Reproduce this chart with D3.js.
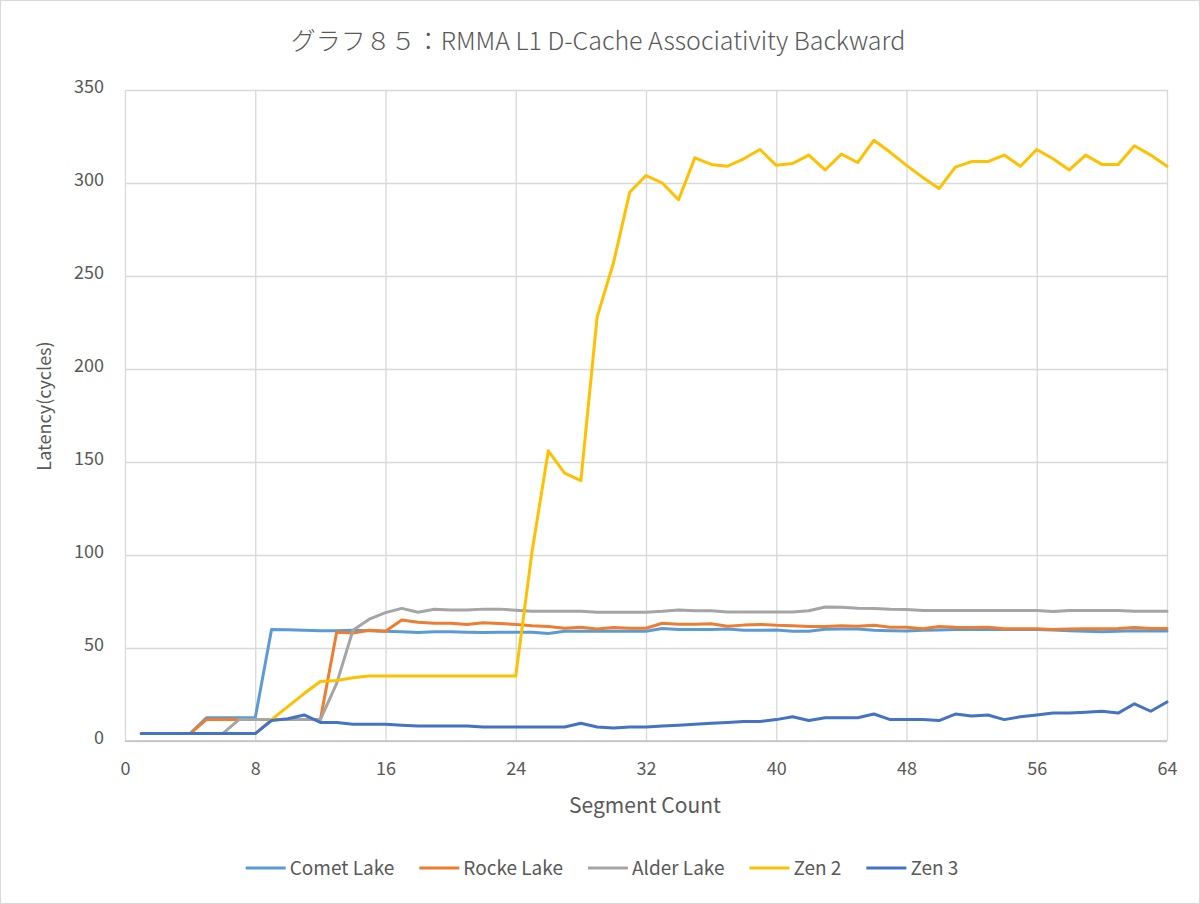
<!DOCTYPE html>
<html><head><meta charset="utf-8">
<script src="https://cdn.jsdelivr.net/npm/d3@7"></script>
<style>body{margin:0;background:#fff}svg{display:block}text{font-family:"Noto Sans CJK JP","Noto Sans",sans-serif;fill:#595959}</style>
</head><body><svg id="c" width="1200" height="904"></svg>
<script>
const title = "グラフ８５：RMMA L1 D-Cache Associativity Backward";
const xTitle = "Segment Count";
const yTitle = "Latency(cycles)";
const segments = d3.range(1, 65);
const xTicks = [0, 8, 16, 24, 32, 40, 48, 56, 64];
const yTicks = [0, 50, 100, 150, 200, 250, 300, 350];
const seriesNames = ["Comet Lake", "Rocke Lake", "Alder Lake", "Zen 2", "Zen 3"];
const seriesColors = ["#5B9BD5", "#ED7D31", "#A5A5A5", "#FFC000", "#4472C4"];

const cometLake = [4,4,4,4,12.5,12.5,12.5,12.5,60,59.8,59.5,59.3,59.3,59.5,59.3,59,58.7,58.3,58.8,58.8,58.5,58.3,58.5,58.5,58.5,57.8,59,59,59,59,59,59,60.5,59.9,59.9,60,60.2,59.5,59.5,59.7,59,59,60.1,60.2,60.2,59.5,59.3,59.2,59.6,59.7,59.9,59.9,59.9,59.9,59.9,59.9,59.7,59.3,59,58.8,59,59.3,59.1,59.1];
const rockeLake = [4,4,4,4,11.5,11.5,11.5,11.5,11.5,11.5,11.5,11.5,58.5,58,59.5,59,65,63.8,63.3,63.3,62.6,63.6,63.2,62.7,62,61.5,60.6,61.1,60.2,61,60.6,60.6,63.3,62.8,62.8,63,61.7,62.3,62.7,62.2,62,61.5,61.6,62,61.7,62.2,61.1,61.1,60.4,61.6,61.1,61,61.1,60.4,60.4,60.3,59.9,60.2,60.4,60.4,60.5,61,60.5,60.5];
const alderLake = [4,4,4,4,4,4,11.5,11.5,11.5,11.5,11.5,11.5,31,59.5,65.5,69,71.3,69.2,70.8,70.4,70.4,70.9,70.9,70.3,69.7,69.7,69.7,69.7,69.2,69.2,69.2,69.2,69.7,70.4,70,70,69.3,69.4,69.4,69.4,69.4,70,72,71.9,71.4,71.3,70.8,70.7,70.1,70.1,70.2,70.2,70.2,70.2,70.2,70.1,69.6,70.1,70.1,70.1,70.1,69.7,69.7,69.7];
const zen2 = [4,4,4,4,4,4,4,4,11.5,18.5,25.5,32,32.5,34,35,35,35,35,35,35,35,35,35,35,101.7,156,144,140,228,257,295,304,300,291,313.5,310,309,313,318,309.5,310.5,315,307,315.5,311,323,316.5,309.5,303,297,308.5,311.5,311.5,315,309,318,313,307,315,310,310,320,315,309];
const zen3 = [4,4,4,4,4,4,4,4,11,12,14,10,10,9,9,9,8.5,8,8,8,8,7.5,7.5,7.5,7.5,7.5,7.5,9.5,7.5,7,7.5,7.5,8,8.5,9,9.5,10,10.5,10.5,11.5,13,11,12.5,12.5,12.5,14.5,11.5,11.5,11.5,11,14.5,13.5,14,11.5,13,14,15,15,15.5,16,15,20,16,21];
const seriesValues = [cometLake, rockeLake, alderLake, zen2, zen3];

const svg = d3.select("#c");
svg.append("rect").attr("x",0.5).attr("y",0.5).attr("width",1199).attr("height",903)
  .attr("fill","#fff").attr("stroke","#d9d9d9");

const m = {left:125, right:1167, top:90, bottom:741};
const x = d3.scaleLinear().domain([0,64]).range([m.left, m.right]);
const y = d3.scaleLinear().domain([0,350]).range([m.bottom, m.top]);

// gridlines
const gy = svg.append("g").attr("transform",`translate(${m.left},0)`)
  .call(d3.axisLeft(y).tickValues(yTicks).tickSize(-(m.right-m.left)).tickFormat(""));
gy.select(".domain").remove();
gy.selectAll("line").attr("stroke","#d9d9d9").attr("stroke-width",1.3);
const gx = svg.append("g").attr("transform",`translate(0,${m.bottom})`)
  .call(d3.axisBottom(x).tickValues(xTicks).tickSize(-(m.bottom-m.top)).tickFormat(""));
gx.select(".domain").remove();
gx.selectAll("line").attr("stroke","#d9d9d9").attr("stroke-width",1.3);
svg.append("line").attr("x1",m.left).attr("x2",m.right).attr("y1",m.bottom).attr("y2",m.bottom)
  .attr("stroke","#bfbfbf").attr("stroke-width",1.3);

// tick labels
const ay = svg.append("g").attr("transform",`translate(${m.left},-3)`)
  .call(d3.axisLeft(y).tickValues(yTicks).tickSize(0).tickPadding(21));
ay.select(".domain").remove();
ay.selectAll("text").style("font-size","18px").attr("fill","#595959");
const ax = svg.append("g").attr("transform",`translate(0,${m.bottom})`)
  .call(d3.axisBottom(x).tickValues(xTicks).tickSize(0).tickPadding(21));
ax.select(".domain").remove();
ax.selectAll("text").style("font-size","18px").attr("fill","#595959");

// titles
svg.append("text").attr("x",598).attr("y",50).attr("text-anchor","middle")
  .style("font-size","25px").style("font-weight","300").text(title);
svg.append("text").attr("x",645).attr("y",813).attr("text-anchor","middle")
  .style("font-size","21px").text(xTitle);
svg.append("text").attr("transform",`translate(51,406) rotate(-90)`)
  .attr("text-anchor","middle").style("font-size","18px").text(yTitle);

// lines
const line = d3.line().x((d,i)=>x(segments[i])).y(d=>y(d));
seriesValues.forEach((vals,k)=>{
  svg.append("path").datum(vals).attr("d",line).attr("fill","none")
    .attr("stroke",seriesColors[k]).attr("stroke-width",3).attr("stroke-linejoin","round").attr("stroke-linecap","round");
});

// legend
const lg = svg.append("g");
let cx = 0;
seriesNames.forEach((n,k)=>{
  const g = lg.append("g");
  g.append("line").attr("x1",0).attr("x2",40).attr("y1",0).attr("y2",0)
    .attr("stroke",seriesColors[k]).attr("stroke-width",3);
  const t = g.append("text").attr("x",44).attr("y",7).style("font-size","19px").text(n);
  const w = 44 + t.node().getComputedTextLength();
  g.attr("transform",`translate(${cx},868)`);
  cx += w + 25;
});
const total = cx - 25;
lg.attr("transform",`translate(${602 - total/2},0)`);
</script></body></html>
